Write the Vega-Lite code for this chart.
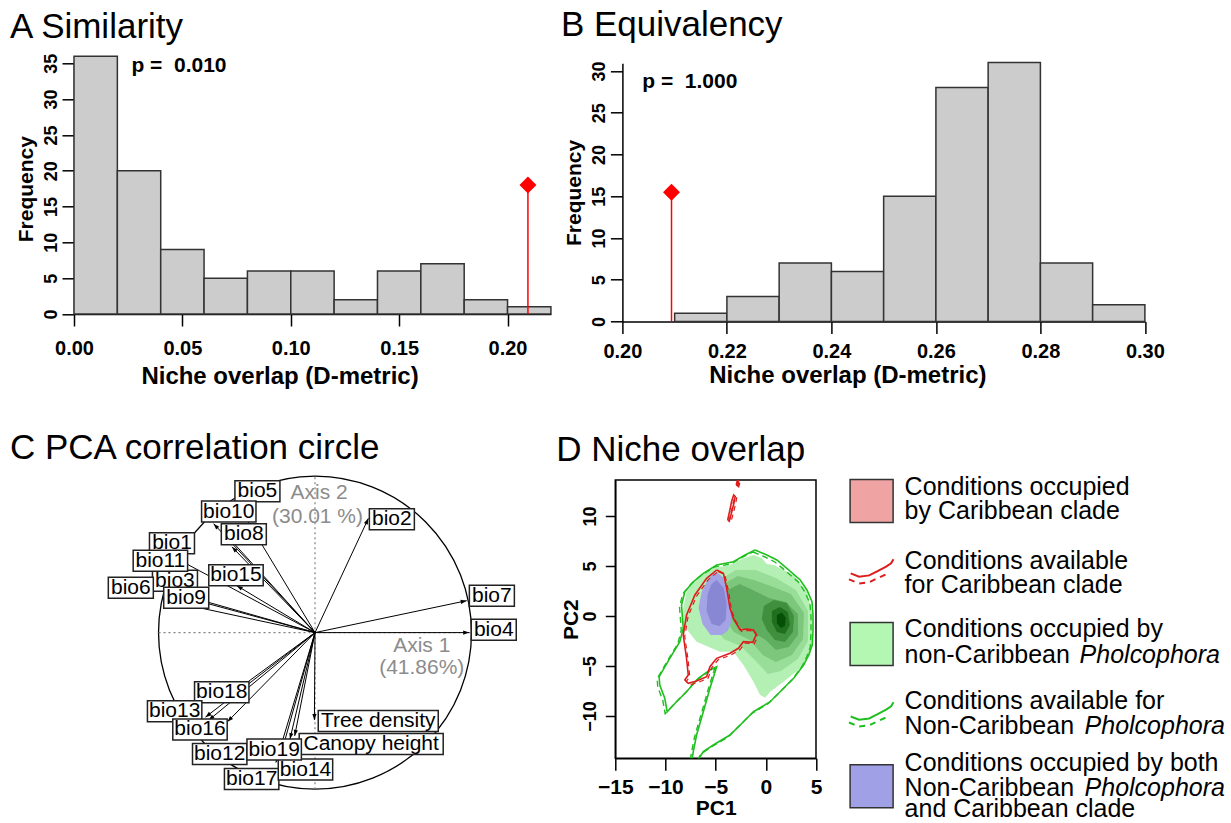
{
  "$schema": "https://vega.github.io/schema/vega-lite/v6.json",
  "background": "white",
  "padding": {"left": 10, "top": 8.3, "right": 0, "bottom": 0},
  "autosize": {"type": "pad"},
  "config": {
    "font": "Liberation Sans",
    "view": {"stroke": null},
    "axis": {"grid": false, "domainColor": "black", "tickColor": "black", "labelColor": "black", "titleColor": "black", "domainWidth": 1.5, "tickWidth": 1.5, "labelFont": "Liberation Sans", "titleFont": "Liberation Sans", "labelFontWeight": "bold", "titleFontWeight": "bold", "labelFontSize": 20, "titleFontSize": 24, "tickSize": 12, "labelFlush": false, "labelOverlap": false},
    "title": {"font": "Liberation Sans", "fontSize": 35, "fontWeight": "normal", "anchor": "start", "frame": "group", "color": "black", "baseline": "alphabetic"}
  },
  "datasets": {
    "histA": [{"x":0,"x2":0.02,"y":36},{"x":0.02,"x2":0.04,"y":20},{"x":0.04,"x2":0.06,"y":9},{"x":0.06,"x2":0.08,"y":5},{"x":0.08,"x2":0.10,"y":6},{"x":0.10,"x2":0.12,"y":6},{"x":0.12,"x2":0.14,"y":2},{"x":0.14,"x2":0.16,"y":6},{"x":0.16,"x2":0.18,"y":7},{"x":0.18,"x2":0.20,"y":2},{"x":0.20,"x2":0.22,"y":1}],
    "histB": [{"x":0.21,"x2":0.22,"y":1},{"x":0.22,"x2":0.23,"y":3},{"x":0.23,"x2":0.24,"y":7},{"x":0.24,"x2":0.25,"y":6},{"x":0.25,"x2":0.26,"y":15},{"x":0.26,"x2":0.27,"y":28},{"x":0.27,"x2":0.28,"y":31},{"x":0.28,"x2":0.29,"y":7},{"x":0.29,"x2":0.30,"y":2}],
    "arrows": [{"label":"bio4","x":0.985,"y":0.0},{"label":"bio7","x":0.969,"y":0.204},{"label":"bio2","x":0.341,"y":0.73},{"label":"bio5","x":-0.51,"y":0.845},{"label":"bio10","x":-0.648,"y":0.696},{"label":"bio8","x":-0.531,"y":0.548},{"label":"bio1","x":-0.6,"y":0.66},{"label":"bio11","x":-0.86,"y":0.46},{"label":"bio15","x":-0.5,"y":0.3},{"label":"bio3","x":-0.95,"y":0.27},{"label":"bio6","x":-0.969,"y":0.262},{"label":"bio9","x":-0.93,"y":0.2},{"label":"bio18","x":-0.6,"y":-0.44},{"label":"bio13","x":-0.7,"y":-0.54},{"label":"bio16","x":-0.68,"y":-0.56},{"label":"bio12","x":-0.56,"y":-0.57},{"label":"bio19","x":-0.16,"y":-0.68},{"label":"bio14","x":-0.234,"y":-0.835},{"label":"bio17","x":-0.25,"y":-0.83},{"label":"Tree density","x":-0.004,"y":-0.558},{"label":"Canopy height","x":-0.13,"y":-0.66}],
    "labels": [{"label":"bio1","x":-0.914,"y":0.571},{"label":"bio3","x":-0.895,"y":0.331},{"label":"bio5","x":-0.368,"y":0.903},{"label":"bio10","x":-0.551,"y":0.773},{"label":"bio8","x":-0.455,"y":0.629},{"label":"bio11","x":-0.988,"y":0.459},{"label":"bio15","x":-0.505,"y":0.366},{"label":"bio6","x":-1.177,"y":0.286},{"label":"bio9","x":-0.823,"y":0.222},{"label":"bio2","x":0.491,"y":0.725},{"label":"bio7","x":1.13,"y":0.236},{"label":"bio4","x":1.142,"y":0.019},{"label":"bio18","x":-0.596,"y":-0.381},{"label":"bio13","x":-0.897,"y":-0.502},{"label":"bio16","x":-0.735,"y":-0.619},{"label":"bio12","x":-0.609,"y":-0.776},{"label":"bio17","x":-0.405,"y":-0.936},{"label":"bio14","x":-0.061,"y":-0.875},{"label":"Canopy height","x":0.359,"y":-0.711},{"label":"bio19","x":-0.261,"y":-0.747},{"label":"Tree density","x":0.404,"y":-0.565}],
    "g1": [{"x":-1.23,"y":6.1},{"x":-0.4,"y":5.8},{"x":0.1,"y":5.2},{"x":0.77,"y":5.1},{"x":2.77,"y":4.1},{"x":4.1,"y":2.43},{"x":4.6,"y":0.43},{"x":4.6,"y":-3.0},{"x":4.43,"y":-3.9},{"x":3.43,"y":-5.23},{"x":1.77,"y":-6.57},{"x":0.43,"y":-7.57},{"x":-0.07,"y":-8.17},{"x":-0.57,"y":-7.9},{"x":-1.23,"y":-6.57},{"x":-2.23,"y":-4.9},{"x":-3.23,"y":-3.57},{"x":-4.57,"y":-3.57},{"x":-6.9,"y":-2.57},{"x":-8.23,"y":-0.9},{"x":-8.23,"y":0.77},{"x":-7.9,"y":2.43},{"x":-6.9,"y":3.77},{"x":-5.23,"y":4.77},{"x":-3.57,"y":5.1},{"x":-2.23,"y":5.77}],
    "g2": [{"x":-4.8,"y":3.5},{"x":-3,"y":4.6},{"x":-1,"y":4.6},{"x":1,"y":3.8},{"x":3,"y":2.6},{"x":4.2,"y":0.5},{"x":4.2,"y":-2.5},{"x":3.2,"y":-4.3},{"x":1.5,"y":-5.5},{"x":0.2,"y":-5.8},{"x":-1,"y":-4.5},{"x":-2.5,"y":-3},{"x":-4.2,"y":-2.3},{"x":-5.3,"y":-0.8},{"x":-5.5,"y":1.5}],
    "g3": [{"x":-4.2,"y":3.2},{"x":-2.8,"y":4.0},{"x":-1.2,"y":3.6},{"x":0.5,"y":3.0},{"x":2.5,"y":2.2},{"x":3.8,"y":0.3},{"x":3.7,"y":-2.3},{"x":2.6,"y":-3.9},{"x":1,"y":-4.6},{"x":-0.3,"y":-3.9},{"x":-1.6,"y":-2.4},{"x":-3.2,"y":-1.6},{"x":-4.4,"y":0.2}],
    "g4": [{"x":-3.8,"y":2.6},{"x":-2.6,"y":3.2},{"x":-1.3,"y":2.6},{"x":0.3,"y":1.8},{"x":2,"y":1.4},{"x":3.2,"y":0.2},{"x":3.2,"y":-1.9},{"x":2.3,"y":-3.1},{"x":1,"y":-3.4},{"x":0,"y":-2.4},{"x":-1.3,"y":-1.6},{"x":-2.8,"y":-1.1},{"x":-3.9,"y":0.4}],
    "g5": [{"x":-0.2,"y":1.0},{"x":0.8,"y":1.6},{"x":2.1,"y":1.3},{"x":2.8,"y":0},{"x":2.7,"y":-1.6},{"x":1.9,"y":-2.6},{"x":0.9,"y":-2.4},{"x":0.1,"y":-1.4},{"x":-0.4,"y":-0.3}],
    "g6": [{"x":0.6,"y":0.5},{"x":1.4,"y":0.9},{"x":2.2,"y":0.4},{"x":2.4,"y":-0.9},{"x":1.9,"y":-1.8},{"x":1.1,"y":-1.6},{"x":0.6,"y":-0.6}],
    "g7": [{"x":1.1,"y":0.1},{"x":1.6,"y":0.35},{"x":2.0,"y":-0.2},{"x":1.9,"y":-1.0},{"x":1.5,"y":-1.2},{"x":1.1,"y":-0.7}],
    "b1": [{"x":-4.9,"y":4.4},{"x":-4.3,"y":3.9},{"x":-3.8,"y":2.5},{"x":-3.5,"y":1.0},{"x":-3.4,"y":-0.5},{"x":-3.8,"y":-1.5},{"x":-4.4,"y":-1.9},{"x":-5.5,"y":-1.9},{"x":-6.3,"y":-0.8},{"x":-6.7,"y":0.8},{"x":-6.4,"y":2.4},{"x":-5.8,"y":3.6},{"x":-5.3,"y":4.2}],
    "b2": [{"x":-4.9,"y":3.6},{"x":-4.2,"y":2.8},{"x":-3.9,"y":1.2},{"x":-4.0,"y":-0.4},{"x":-4.6,"y":-1.0},{"x":-5.4,"y":-0.8},{"x":-5.9,"y":0.5},{"x":-5.8,"y":2.2},{"x":-5.4,"y":3.2}],
    "greenOut": [{"x":-1.07,"y":6.6},{"x":0.1,"y":6.1},{"x":1.1,"y":5.6},{"x":2.1,"y":4.77},{"x":3.43,"y":3.6},{"x":4.1,"y":2.6},{"x":4.6,"y":1.43},{"x":4.7,"y":0.1},{"x":4.7,"y":-1.5},{"x":4.63,"y":-2.9},{"x":4.27,"y":-3.9},{"x":3.77,"y":-4.9},{"x":2.77,"y":-6.23},{"x":1.77,"y":-7.23},{"x":0.43,"y":-8.57},{"x":-0.4,"y":-9.07},{"x":-1.23,"y":-9.57},{"x":-2.23,"y":-10.57},{"x":-3.57,"y":-11.9},{"x":-5.23,"y":-12.9},{"x":-6.23,"y":-13.57},{"x":-6.9,"y":-14.6},{"x":-7.4,"y":-14.6},{"x":-7.23,"y":-13.57},{"x":-6.9,"y":-11.9},{"x":-6.23,"y":-9.57},{"x":-5.57,"y":-7.23},{"x":-4.9,"y":-5.07},{"x":-5.57,"y":-5.4},{"x":-6.73,"y":-6.23},{"x":-7.9,"y":-7.57},{"x":-8.9,"y":-8.57},{"x":-9.83,"y":-9.57},{"x":-10.07,"y":-8.23},{"x":-10.57,"y":-6.9},{"x":-10.63,"y":-6.07},{"x":-9.57,"y":-4.23},{"x":-8.57,"y":-2.57},{"x":-8.23,"y":-1.23},{"x":-8.4,"y":1.1},{"x":-8.07,"y":2.43},{"x":-7.23,"y":3.43},{"x":-6.23,"y":4.27},{"x":-4.9,"y":5.1},{"x":-3.23,"y":5.43},{"x":-2.07,"y":6.1},{"x":-1.07,"y":6.6}],
    "redOut": [{"p":"m","x":-4.9,"y":4.6},{"p":"m","x":-4.23,"y":4.27},{"p":"m","x":-3.9,"y":2.77},{"p":"m","x":-3.57,"y":0.77},{"p":"m","x":-3.23,"y":-0.23},{"p":"m","x":-2.57,"y":-1.4},{"p":"m","x":-1.9,"y":-1.3},{"p":"m","x":-1.23,"y":-1.4},{"p":"m","x":-0.97,"y":-1.9},{"p":"m","x":-1.3,"y":-2.63},{"p":"m","x":-2.23,"y":-2.57},{"p":"m","x":-2.73,"y":-3.23},{"p":"m","x":-3.57,"y":-3.73},{"p":"m","x":-4.9,"y":-4.23},{"p":"m","x":-5.57,"y":-5.07},{"p":"m","x":-5.9,"y":-6.07},{"p":"m","x":-6.9,"y":-6.5},{"p":"m","x":-7.73,"y":-6.73},{"p":"m","x":-8.07,"y":-6.4},{"p":"m","x":-7.73,"y":-5.9},{"p":"m","x":-7.9,"y":-4.23},{"p":"m","x":-8.23,"y":-1.9},{"p":"m","x":-7.9,"y":0.1},{"p":"m","x":-7.07,"y":2.1},{"p":"m","x":-5.9,"y":3.77},{"p":"m","x":-4.9,"y":4.6},
      {"p":"i1","x":-3.8,"y":9.6},{"p":"i1","x":-3.6,"y":10.5},{"p":"i1","x":-3.4,"y":11.5},{"p":"i1","x":-3.2,"y":12.1},{"p":"i1","x":-3.05,"y":11.95},{"p":"i1","x":-3.2,"y":11.2},{"p":"i1","x":-3.45,"y":10.2},{"p":"i1","x":-3.65,"y":9.5},{"p":"i1","x":-3.8,"y":9.6},
      {"p":"i2","x":-2.95,"y":13.1},{"p":"i2","x":-2.8,"y":13.7},{"p":"i2","x":-2.7,"y":13.6},{"p":"i2","x":-2.85,"y":13.05},{"p":"i2","x":-2.95,"y":13.1}],
    "legText": [{"x":2.158,"y":0.605,"t":"Conditions occupied"},{"x":2.158,"y":1.561,"t":"by Caribbean clade"},{"x":2.158,"y":3.502,"t":"Conditions available"},{"x":2.158,"y":4.462,"t":"for Caribbean clade"},{"x":2.158,"y":6.194,"t":"Conditions occupied by"},{"x":2.158,"y":7.23,"t":"non-Caribbean"},{"x":2.158,"y":9.051,"t":"Conditions available for"},{"x":2.158,"y":10.051,"t":"Non-Caribbean"},{"x":2.158,"y":11.514,"t":"Conditions occupied by both"},{"x":2.158,"y":12.502,"t":"Non-Caribbean"},{"x":2.158,"y":13.33,"t":"and Caribbean clade"}],
    "legItal": [{"x":9.023,"y":7.23,"t":"Pholcophora"},{"x":9.219,"y":10.051,"t":"Pholcophora"},{"x":9.219,"y":12.502,"t":"Pholcophora"}]
  },
  "spacing": 416.7,
  "bounds": "flush",
  "vconcat": [
    {
      "spacing": 71.4,
      "bounds": "flush",
      "hconcat": [
        {
          "width": 476.9, "height": 250.7,
          "title": {"text": "A Similarity", "dx": -64, "offset": 8},
          "encoding": {
            "x": {"field": "x", "type": "quantitative", "scale": {"domain": [0, 0.22], "nice": false, "zero": false}, "axis": {"values": [0, 0.05, 0.1, 0.15, 0.2], "format": ".2f", "title": "Niche overlap (D-metric)", "labelPadding": 13, "titlePadding": 6, "titleX": 205.5}},
            "y": {"field": "y", "type": "quantitative", "scale": {"domain": [0, 35], "nice": false, "zero": false}, "axis": {"values": [0, 5, 10, 15, 20, 25, 30, 35], "title": "Frequency", "labelAngle": 270, "labelAlign": "center", "labelBaseline": "bottom", "labelPadding": 2, "labelFontSize": 18, "titleFontSize": 21, "titlePadding": 6}}
          },
          "layer": [
            {"data": {"name": "histA"}, "mark": {"type": "rect", "fill": "#cccccc", "stroke": "#333333", "strokeWidth": 1.5}, "encoding": {"x2": {"field": "x2"}, "y2": {"datum": 0}}},
            {"data": {"values": [{"x": 0.2094, "y": 18.0}]}, "mark": {"type": "rule", "color": "#ff0000", "strokeWidth": 1.5}, "encoding": {"y2": {"datum": 0}}},
            {"data": {"values": [{"x": 0.2094, "y": 18.0}]}, "mark": {"type": "point", "shape": "diamond", "filled": true, "color": "#ff0000", "size": 289, "opacity": 1}},
            {"data": {"values": [{"x": 0.0265, "y": 33.74, "t": "p =\u00a0 0.010"}]}, "mark": {"type": "text", "align": "left", "baseline": "alphabetic", "fontSize": 21, "fontWeight": "bold", "color": "black"}, "encoding": {"text": {"field": "t"}}}
          ]
        },
        {
          "width": 522.5, "height": 258.2,
          "title": {"text": "B Equivalency", "dx": -61.5, "offset": 17.4},
          "encoding": {
            "x": {"field": "x", "type": "quantitative", "scale": {"domain": [0.2, 0.3], "nice": false, "zero": false}, "axis": {"values": [0.2, 0.22, 0.24, 0.26, 0.28, 0.3], "format": ".2f", "title": "Niche overlap (D-metric)", "labelPadding": 8, "titlePadding": 2, "titleX": 225}},
            "y": {"field": "y", "type": "quantitative", "scale": {"domain": [0, 30.91], "nice": false, "zero": false}, "axis": {"values": [0, 5, 10, 15, 20, 25, 30], "title": "Frequency", "labelAngle": 270, "labelAlign": "center", "labelBaseline": "bottom", "labelPadding": 2, "labelFontSize": 18, "titleFontSize": 21, "titlePadding": 6}}
          },
          "layer": [
            {"data": {"name": "histB"}, "mark": {"type": "rect", "fill": "#cccccc", "stroke": "#333333", "strokeWidth": 1.5}, "encoding": {"x2": {"field": "x2"}, "y2": {"datum": 0}}},
            {"data": {"values": [{"x": 0.2094, "y": 15.48}]}, "mark": {"type": "rule", "color": "#ff0000", "strokeWidth": 1.5}, "encoding": {"y2": {"datum": 0}}},
            {"data": {"values": [{"x": 0.2094, "y": 15.48}]}, "mark": {"type": "point", "shape": "diamond", "filled": true, "color": "#ff0000", "size": 289, "opacity": 1}},
            {"data": {"values": [{"x": 0.2038, "y": 27.93, "t": "p =\u00a0 1.000"}]}, "mark": {"type": "text", "align": "left", "baseline": "alphabetic", "fontSize": 21, "fontWeight": "bold", "color": "black"}, "encoding": {"text": {"field": "t"}}}
          ]
        }
      ]
    },
    {
      "spacing": 33.3,
      "bounds": "flush",
      "hconcat": [
        {
          "width": 507.7, "height": 278.3,
          "title": {"text": "C PCA correlation circle", "dx": -64, "offset": 7.6},
          "encoding": {
            "x": {"field": "x", "type": "quantitative", "scale": {"domain": [-1.54, 1.704], "nice": false, "zero": false}, "axis": null},
            "y": {"field": "y", "type": "quantitative", "scale": {"domain": [-0.803, 0.975], "nice": false, "zero": false}, "axis": null}
          },
          "layer": [
            {"data": {"values": [{"x": 0, "y": 0}]}, "mark": {"type": "point", "shape": "circle", "filled": false, "size": 97969, "color": "black", "strokeWidth": 1.3, "opacity": 1}},
            {"data": {"values": [{"x": -1, "x2": 1, "y": 0}]}, "mark": {"type": "rule", "color": "#808080", "strokeDash": [2, 3], "strokeWidth": 1.2}, "encoding": {"x2": {"field": "x2"}}},
            {"data": {"values": [{"x": 0, "y": -1, "y2": 1}]}, "mark": {"type": "rule", "color": "#808080", "strokeDash": [2, 3], "strokeWidth": 1.2}, "encoding": {"y2": {"field": "y2"}}},
            {"data": {"values": [{"x": 0.026, "y": 0.89, "t": "Axis 2"}, {"x": 0.016, "y": 0.741, "t": "(30.01 %)"}, {"x": 0.682, "y": -0.088, "t": "Axis 1"}, {"x": 0.682, "y": -0.228, "t": "(41.86%)"}]}, "mark": {"type": "text", "color": "#8c8c8c", "fontSize": 21, "align": "center", "baseline": "middle"}, "encoding": {"text": {"field": "t"}}},
            {"data": {"name": "arrows"}, "mark": {"type": "rule", "color": "black", "strokeWidth": 1}, "encoding": {"x": {"datum": 0, "type": "quantitative"}, "y": {"datum": 0, "type": "quantitative"}, "x2": {"field": "x"}, "y2": {"field": "y"}}},
            {"data": {"name": "arrows"}, "transform": [{"calculate": "90 - atan2(datum.y, datum.x) * 180 / PI", "as": "ang"}], "mark": {"type": "point", "shape": "M0,0L-0.7,2L0.7,2Z", "filled": true, "color": "black", "size": 36, "opacity": 1}, "encoding": {"angle": {"field": "ang", "type": "quantitative", "scale": null}}},
            {"data": {"name": "labels"}, "transform": [{"filter": "indexof(['bio1','bio3'], datum.label) >= 0"}], "mark": {"type": "point", "filled": true, "fill": "white", "stroke": "#222222", "strokeWidth": 1.5, "size": 400, "opacity": 1},
             "encoding": {"shape": {"field": "label", "type": "nominal", "legend": null, "scale": {"domain": ["bio1","bio2","bio3","bio4","bio5","bio6","bio7","bio8","bio9","bio10","bio11","bio12","bio13","bio14","bio15","bio16","bio17","bio18","bio19","Tree density","Canopy height"], "range": ["M-2.25,-1.05L2.25,-1.05L2.25,1.05L-2.25,1.05Z","M-2.25,-1.05L2.25,-1.05L2.25,1.05L-2.25,1.05Z","M-2.25,-1.05L2.25,-1.05L2.25,1.05L-2.25,1.05Z","M-2.25,-1.05L2.25,-1.05L2.25,1.05L-2.25,1.05Z","M-2.25,-1.05L2.25,-1.05L2.25,1.05L-2.25,1.05Z","M-2.25,-1.05L2.25,-1.05L2.25,1.05L-2.25,1.05Z","M-2.25,-1.05L2.25,-1.05L2.25,1.05L-2.25,1.05Z","M-2.25,-1.05L2.25,-1.05L2.25,1.05L-2.25,1.05Z","M-2.25,-1.05L2.25,-1.05L2.25,1.05L-2.25,1.05Z","M-2.72,-1.05L2.72,-1.05L2.72,1.05L-2.72,1.05Z","M-2.72,-1.05L2.72,-1.05L2.72,1.05L-2.72,1.05Z","M-2.72,-1.05L2.72,-1.05L2.72,1.05L-2.72,1.05Z","M-2.72,-1.05L2.72,-1.05L2.72,1.05L-2.72,1.05Z","M-2.72,-1.05L2.72,-1.05L2.72,1.05L-2.72,1.05Z","M-2.72,-1.05L2.72,-1.05L2.72,1.05L-2.72,1.05Z","M-2.72,-1.05L2.72,-1.05L2.72,1.05L-2.72,1.05Z","M-2.72,-1.05L2.72,-1.05L2.72,1.05L-2.72,1.05Z","M-2.72,-1.05L2.72,-1.05L2.72,1.05L-2.72,1.05Z","M-2.72,-1.05L2.72,-1.05L2.72,1.05L-2.72,1.05Z","M-6,-1.05L6,-1.05L6,1.05L-6,1.05Z","M-7.2,-1.05L7.2,-1.05L7.2,1.05L-7.2,1.05Z"]}}}},
            {"data": {"name": "labels"}, "transform": [{"filter": "indexof(['bio1','bio3'], datum.label) >= 0"}], "mark": {"type": "text", "fontSize": 21, "align": "center", "baseline": "middle", "color": "black"}, "encoding": {"text": {"field": "label"}}},
            {"data": {"name": "labels"}, "transform": [{"filter": "indexof(['bio1','bio3'], datum.label) < 0"}], "mark": {"type": "point", "filled": true, "fill": "white", "stroke": "#222222", "strokeWidth": 1.5, "size": 400, "opacity": 1},
             "encoding": {"shape": {"field": "label", "type": "nominal", "legend": null, "scale": {"domain": ["bio1","bio2","bio3","bio4","bio5","bio6","bio7","bio8","bio9","bio10","bio11","bio12","bio13","bio14","bio15","bio16","bio17","bio18","bio19","Tree density","Canopy height"], "range": ["M-2.25,-1.05L2.25,-1.05L2.25,1.05L-2.25,1.05Z","M-2.25,-1.05L2.25,-1.05L2.25,1.05L-2.25,1.05Z","M-2.25,-1.05L2.25,-1.05L2.25,1.05L-2.25,1.05Z","M-2.25,-1.05L2.25,-1.05L2.25,1.05L-2.25,1.05Z","M-2.25,-1.05L2.25,-1.05L2.25,1.05L-2.25,1.05Z","M-2.25,-1.05L2.25,-1.05L2.25,1.05L-2.25,1.05Z","M-2.25,-1.05L2.25,-1.05L2.25,1.05L-2.25,1.05Z","M-2.25,-1.05L2.25,-1.05L2.25,1.05L-2.25,1.05Z","M-2.25,-1.05L2.25,-1.05L2.25,1.05L-2.25,1.05Z","M-2.72,-1.05L2.72,-1.05L2.72,1.05L-2.72,1.05Z","M-2.72,-1.05L2.72,-1.05L2.72,1.05L-2.72,1.05Z","M-2.72,-1.05L2.72,-1.05L2.72,1.05L-2.72,1.05Z","M-2.72,-1.05L2.72,-1.05L2.72,1.05L-2.72,1.05Z","M-2.72,-1.05L2.72,-1.05L2.72,1.05L-2.72,1.05Z","M-2.72,-1.05L2.72,-1.05L2.72,1.05L-2.72,1.05Z","M-2.72,-1.05L2.72,-1.05L2.72,1.05L-2.72,1.05Z","M-2.72,-1.05L2.72,-1.05L2.72,1.05L-2.72,1.05Z","M-2.72,-1.05L2.72,-1.05L2.72,1.05L-2.72,1.05Z","M-2.72,-1.05L2.72,-1.05L2.72,1.05L-2.72,1.05Z","M-6,-1.05L6,-1.05L6,1.05L-6,1.05Z","M-7.2,-1.05L7.2,-1.05L7.2,1.05L-7.2,1.05Z"]}}}},
            {"data": {"name": "labels"}, "transform": [{"filter": "indexof(['bio1','bio3'], datum.label) < 0"}], "mark": {"type": "text", "fontSize": 21, "align": "center", "baseline": "middle", "color": "black"}, "encoding": {"text": {"field": "label"}}}
          ]
        },
        {
          "width": 200.7, "height": 278.3,
          "view": {"stroke": "black", "strokeWidth": 1.5},
          "title": {"text": "D Niche overlap", "dx": -59, "offset": 12},
          "encoding": {
            "x": {"field": "x", "type": "quantitative", "scale": {"domain": [-15, 5], "nice": false, "zero": false}, "axis": {"values": [-15, -10, -5, 0, 5], "title": "PC1", "labelFontSize": 21, "titleFontSize": 21, "labelPadding": 6, "titlePadding": 0, "tickSize": 12}},
            "y": {"field": "y", "type": "quantitative", "scale": {"domain": [-14.23, 13.6], "nice": false, "zero": false}, "axis": {"values": [-10, -5, 0, 5, 10], "title": "PC2", "labelAngle": 270, "labelAlign": "center", "labelBaseline": "bottom", "labelFontSize": 18, "titleFontSize": 21, "labelPadding": 6, "titlePadding": 0, "tickSize": 10}},
            "order": {"value": null}
          },
          "layer": [
            {"data": {"name": "g1"}, "mark": {"type": "line", "filled": true, "color": "#b4f0b4", "strokeWidth": 0, "clip": true}},
            {"data": {"name": "g2"}, "mark": {"type": "line", "filled": true, "color": "#98dd98", "strokeWidth": 0, "clip": true}},
            {"data": {"name": "g3"}, "mark": {"type": "line", "filled": true, "color": "#7cc77c", "strokeWidth": 0, "clip": true}},
            {"data": {"name": "g4"}, "mark": {"type": "line", "filled": true, "color": "#5fae5f", "strokeWidth": 0, "clip": true}},
            {"data": {"name": "g5"}, "mark": {"type": "line", "filled": true, "color": "#3f8f3f", "strokeWidth": 0, "clip": true}},
            {"data": {"name": "g6"}, "mark": {"type": "line", "filled": true, "color": "#1f6f1f", "strokeWidth": 0, "clip": true}},
            {"data": {"name": "g7"}, "mark": {"type": "line", "filled": true, "color": "#064f06", "strokeWidth": 0, "clip": true}},
            {"data": {"name": "b1"}, "mark": {"type": "line", "filled": true, "color": "#a3a3e6", "strokeWidth": 0, "clip": true}},
            {"data": {"name": "b2"}, "mark": {"type": "line", "filled": true, "color": "#8787d4", "strokeWidth": 0, "clip": true}},
            {"data": {"name": "greenOut"}, "mark": {"type": "line", "color": "#1fbf1f", "strokeWidth": 1.6, "clip": true}},
            {"data": {"name": "greenOut"}, "mark": {"type": "line", "color": "#1fbf1f", "strokeWidth": 1.4, "strokeDash": [6, 4], "xOffset": -2, "yOffset": 2, "clip": true}},
            {"data": {"name": "redOut"}, "mark": {"type": "line", "color": "#dd1c1c", "strokeWidth": 1.6, "clip": true}, "encoding": {"detail": {"field": "p"}}},
            {"data": {"name": "redOut"}, "mark": {"type": "line", "color": "#dd1c1c", "strokeWidth": 1.2, "strokeDash": [5, 4], "xOffset": 1.5, "yOffset": 1.5, "clip": true}, "encoding": {"detail": {"field": "p"}}}
          ]
        },
        {
          "width": 375, "height": 278.3,
          "encoding": {
            "x": {"field": "x", "type": "quantitative", "scale": {"domain": [0, 14.71], "nice": false, "zero": false}, "axis": null},
            "y": {"field": "y", "type": "quantitative", "scale": {"domain": [0, 11], "nice": false, "zero": false, "reverse": true}, "axis": null}
          },
          "layer": [
            {"data": {"values": [{"x": 0.863, "y": 0.834, "k": "Caribbean"}, {"x": 0.863, "y": 6.478, "k": "nonCaribbean"}, {"x": 0.863, "y": 12.1, "k": "both"}]}, "mark": {"type": "point", "shape": "square", "filled": true, "size": 1849, "stroke": "#333333", "strokeWidth": 1.5, "opacity": 1}, "encoding": {"fill": {"field": "k", "type": "nominal", "legend": null, "scale": {"domain": ["Caribbean", "nonCaribbean", "both"], "range": ["#efa3a3", "#b3f7b3", "#a0a0e6"]}}}},
            {"data": {"values": [{"x": 0.043, "y": 3.69}, {"x": 0.373, "y": 3.82}, {"x": 0.769, "y": 3.77}, {"x": 1.098, "y": 3.6}, {"x": 1.432, "y": 3.42}, {"x": 1.628, "y": 3.29}, {"x": 1.722, "y": 3.13}]}, "mark": {"type": "line", "color": "#dd1c1c", "strokeWidth": 2}, "encoding": {"order": {"value": null}}},
            {"data": {"values": [{"x": -0.024, "y": 3.93}, {"x": 0.373, "y": 4.09}, {"x": 0.769, "y": 4.04}, {"x": 1.098, "y": 3.88}, {"x": 1.432, "y": 3.73}]}, "mark": {"type": "line", "color": "#dd1c1c", "strokeWidth": 2, "strokeDash": [6, 5]}, "encoding": {"order": {"value": null}}},
            {"data": {"values": [{"x": 0.043, "y": 9.346}, {"x": 0.373, "y": 9.476}, {"x": 0.769, "y": 9.426}, {"x": 1.098, "y": 9.256}, {"x": 1.432, "y": 9.076}, {"x": 1.628, "y": 8.946}, {"x": 1.722, "y": 8.786}]}, "mark": {"type": "line", "color": "#1fbf1f", "strokeWidth": 2}, "encoding": {"order": {"value": null}}},
            {"data": {"values": [{"x": -0.024, "y": 9.586}, {"x": 0.373, "y": 9.746}, {"x": 0.769, "y": 9.696}, {"x": 1.098, "y": 9.536}, {"x": 1.432, "y": 9.386}]}, "mark": {"type": "line", "color": "#1fbf1f", "strokeWidth": 2, "strokeDash": [6, 5]}, "encoding": {"order": {"value": null}}},
            {"data": {"name": "legText"}, "mark": {"type": "text", "align": "left", "baseline": "alphabetic", "fontSize": 25, "color": "black"}, "encoding": {"text": {"field": "t"}}},
            {"data": {"name": "legItal"}, "mark": {"type": "text", "align": "left", "baseline": "alphabetic", "fontSize": 25, "fontStyle": "italic", "color": "black"}, "encoding": {"text": {"field": "t"}}}
          ]
        }
      ]
    }
  ]
}
